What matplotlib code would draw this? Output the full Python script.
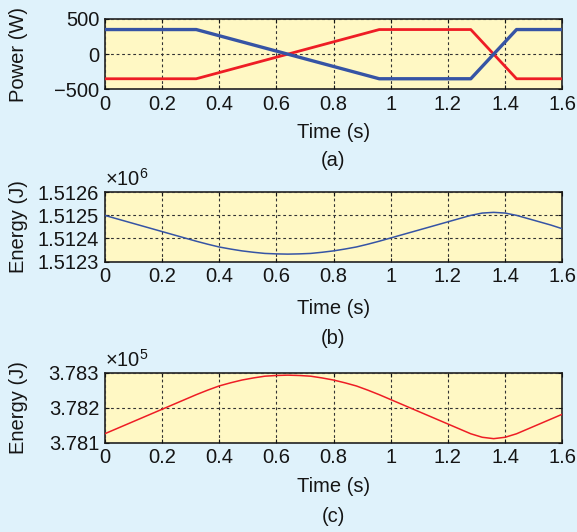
import matplotlib
matplotlib.use("Agg")
import matplotlib.pyplot as plt

plt.rcParams['font.family'] = ['Liberation Sans', 'DejaVu Sans']
plt.rcParams['mathtext.fontset'] = 'custom'
plt.rcParams['mathtext.rm'] = 'Liberation Sans'
plt.rcParams['mathtext.it'] = 'Liberation Sans:italic'

# ---------------- data ----------------
# (a) power, piecewise linear breakpoints
t_power = [0.0, 0.32, 0.96, 1.28, 1.44, 1.6]
p_blue = [350, 350, -350, -350, 350, 350]
p_red = [-350, -350, 350, 350, -350, -350]

# (b)/(c) energy samples every 0.04 s
t_energy = [0.00, 0.04, 0.08, 0.12, 0.16, 0.20, 0.24, 0.28, 0.32, 0.36,
            0.40, 0.44, 0.48, 0.52, 0.56, 0.60, 0.64, 0.68, 0.72, 0.76,
            0.80, 0.84, 0.88, 0.92, 0.96, 1.00, 1.04, 1.08, 1.12, 1.16,
            1.20, 1.24, 1.28, 1.32, 1.36, 1.40, 1.44, 1.48, 1.52, 1.56, 1.60]
energy_b = [1512500, 1512486, 1512472, 1512458, 1512444, 1512430, 1512416,
            1512402, 1512388, 1512375, 1512363, 1512354, 1512346, 1512340,
            1512335, 1512333, 1512332, 1512333, 1512335, 1512340, 1512346,
            1512354, 1512363, 1512375, 1512388, 1512402, 1512416, 1512430,
            1512444, 1512458, 1512472, 1512486, 1512500, 1512510, 1512513,
            1512510, 1512500, 1512486, 1512472, 1512458, 1512442]
energy_c = [378125, 378139, 378153, 378167, 378181, 378195, 378209,
            378223, 378237, 378250, 378262, 378271, 378279, 378285,
            378290, 378292, 378293, 378292, 378290, 378285, 378279,
            378271, 378262, 378250, 378237, 378223, 378209, 378195,
            378181, 378167, 378153, 378139, 378125, 378115, 378111,
            378115, 378125, 378139, 378153, 378167, 378181]

x_ticks = [0, 0.2, 0.4, 0.6, 0.8, 1.0, 1.2, 1.4, 1.6]
x_tick_labels = ['0', '0.2', '0.4', '0.6', '0.8', '1', '1.2', '1.4', '1.6']
p_ticks = [-500, 0, 500]
p_tick_labels = ['\u2212500', '0', '500']
eb_ticks = [1512300, 1512400, 1512500, 1512600]
eb_tick_labels = ['1.5123', '1.5124', '1.5125', '1.5126']
ec_ticks = [378100, 378200, 378300]
ec_tick_labels = ['3.781', '3.782', '3.783']

# ---------------- style ----------------
BG = '#dff2fb'
FACE = '#fff8c4'
BLUE = '#3654a5'
RED = '#ee1d25'
TXT = '#151515'
FS = 14.5

fig = plt.figure(figsize=(5.77, 5.32), dpi=100, facecolor=BG)

W, H = 577.0, 532.0
left = 104.7 / W
width = 457.6 / W

def make_ax(top_px, bot_px):
    ax = fig.add_axes([left, 1 - bot_px / H, width, (bot_px - top_px) / H])
    ax.set_facecolor(FACE)
    for s in ax.spines.values():
        s.set_color('#222222')
        s.set_linewidth(1.2)
    ax.grid(True, color='#333333', linestyle=(0, (2.5, 2.5)), linewidth=0.8)
    ax.set_axisbelow(False)
    ax.tick_params(direction='in', length=3, width=0.8, labelsize=FS,
                   colors=TXT, pad=4, top=True, right=True)
    ax.set_xlim(0, 1.6)
    ax.set_xticks(x_ticks)
    ax.set_xticklabels(x_tick_labels)
    return ax

# (a)
ax1 = make_ax(19.0, 89.3)
ax1.plot(t_power, p_red, color=RED, lw=2.0, zorder=3)
ax1.plot(t_power, p_blue, color=BLUE, lw=2.4, zorder=3)
ax1.set_ylim(-500, 500)
ax1.set_yticks(p_ticks)
ax1.set_yticklabels(p_tick_labels)
ax1.set_ylabel('Power (W)', fontsize=FS, color=TXT)
ax1.yaxis.set_label_coords(-0.168, 0.5)

# (b)
ax2 = make_ax(192.3, 261.5)
ax2.plot(t_energy, energy_b, color=BLUE, lw=1.1, zorder=3)
ax2.set_ylim(1512300, 1512600)
ax2.set_yticks(eb_ticks)
ax2.set_yticklabels(eb_tick_labels)
ax2.set_ylabel('Energy (J)', fontsize=FS, color=TXT)
ax2.yaxis.set_label_coords(-0.168, 0.5)
ax2.text(0.0, 1.03, r'$\times10^{6}$', transform=ax2.transAxes,
         ha='left', va='bottom', fontsize=FS, color=TXT)

# (c)
ax3 = make_ax(372.7, 442.5)
ax3.plot(t_energy, energy_c, color=RED, lw=1.1, zorder=3)
ax3.set_ylim(378100, 378300)
ax3.set_yticks(ec_ticks)
ax3.set_yticklabels(ec_tick_labels)
ax3.set_ylabel('Energy (J)', fontsize=FS, color=TXT)
ax3.yaxis.set_label_coords(-0.168, 0.5)
ax3.text(0.0, 1.03, r'$\times10^{5}$', transform=ax3.transAxes,
         ha='left', va='bottom', fontsize=FS, color=TXT)

cx = (104.7 + 228.8) / W
for ax, ty, ly, lab in [(ax1, 132, 160, '(a)'), (ax2, 308, 339, '(b)'),
                        (ax3, 487, 517, '(c)')]:
    fig.text(cx, 1 - ty / H, 'Time (s)', ha='center', va='center',
             fontsize=FS, color=TXT)
    fig.text(cx, 1 - ly / H, lab, ha='center', va='center',
             fontsize=FS, color=TXT)

fig.savefig('out.png', dpi=100, facecolor=BG)
